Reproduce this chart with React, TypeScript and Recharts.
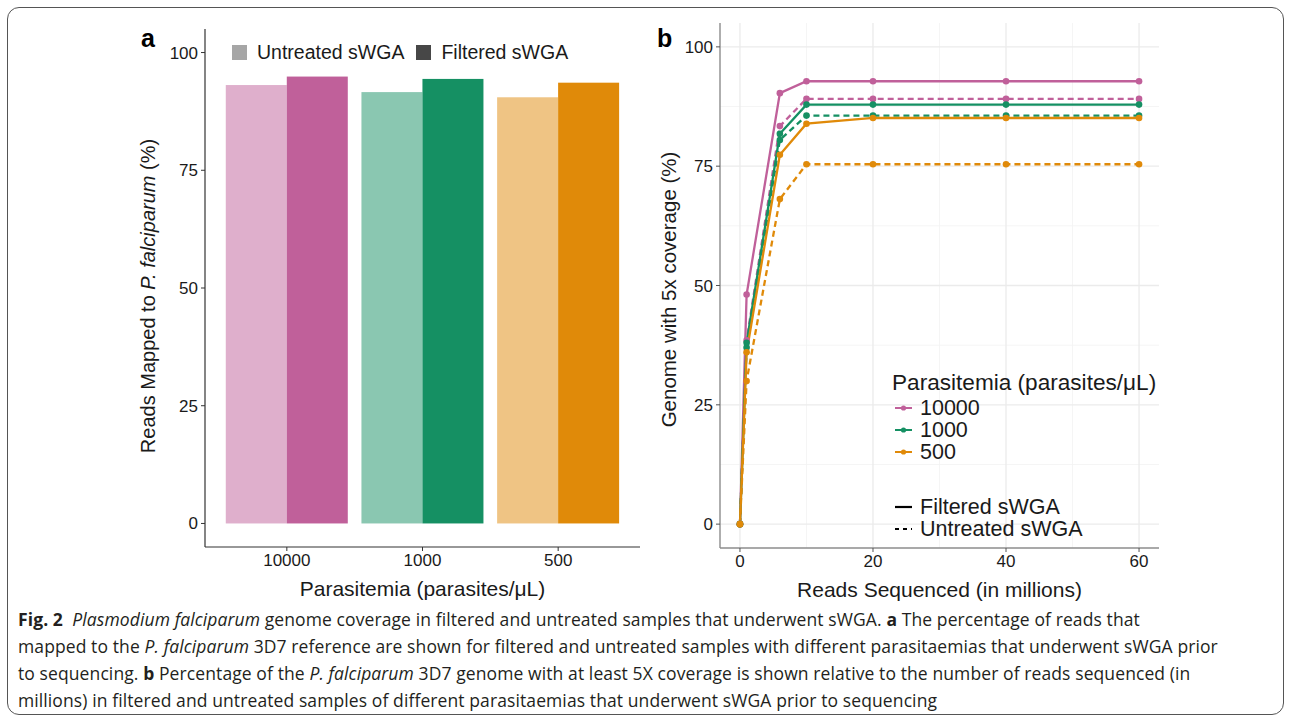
import React from 'react';
import {
  BarChart, Bar, LineChart, Line, XAxis, YAxis, CartesianGrid,
} from 'recharts';

// ---------- Panel a data ----------
const parasitemiaCategories = ['10000', '1000', '500'];
const untreatedReadsMapped = [93.1, 91.6, 90.5];
const filteredReadsMapped = [94.9, 94.4, 93.6];
const barColors = ['#C0609A', '#159063', '#E08A09'];
const yTicksPct = [0, 25, 50, 75, 100];

// ---------- Panel b data ----------
const readsSequenced = [0, 1, 6, 10, 20, 40, 60];
const cov10000Filtered = [0, 48.1, 90.3, 92.8, 92.8, 92.8, 92.8];
const cov10000Untreated = [0, 38.5, 83.4, 89.1, 89.1, 89.1, 89.1];
const cov1000Filtered = [0, 38, 81.8, 87.9, 87.9, 87.9, 87.9];
const cov1000Untreated = [0, 37, 80.5, 85.6, 85.6, 85.6, 85.6];
const cov500Filtered = [0, 36, 77.4, 83.9, 85.1, 85.1, 85.1];
const cov500Untreated = [0, 30, 68.1, 75.4, 75.4, 75.4, 75.4];
const xTicksReads = [0, 20, 40, 60];
const xMinorReads = [10, 30, 50];
const yMinorPct = [12.5, 37.5, 62.5, 87.5];

const barData = parasitemiaCategories.map((c, i) => ({
  cat: c,
  untreated: untreatedReadsMapped[i],
  filtered: filteredReadsMapped[i],
}));

const lineData = readsSequenced.map((x, i) => ({
  x,
  f10000: cov10000Filtered[i],
  u10000: cov10000Untreated[i],
  f1000: cov1000Filtered[i],
  u1000: cov1000Untreated[i],
  f500: cov500Filtered[i],
  u500: cov500Untreated[i],
}));

const lineSeries = [
  { key: 'u10000', color: barColors[0], dashed: true },
  { key: 'f10000', color: barColors[0], dashed: false },
  { key: 'u1000', color: barColors[1], dashed: true },
  { key: 'f1000', color: barColors[1], dashed: false },
  { key: 'u500', color: barColors[2], dashed: true },
  { key: 'f500', color: barColors[2], dashed: false },
];

const FONT = '"Liberation Sans", Arial, Helvetica, sans-serif';
const TEXT = '#1A1A1A';

const BarShape = (props: any) => {
  const { x, y, width, height, index, dataKey } = props;
  const col = barColors[index];
  return (
    <rect x={x} y={y} width={width} height={height} fill={col}
      fillOpacity={dataKey === 'untreated' ? 0.5 : 1} />
  );
};

const YTitleA = (props: any) => {
  const { viewBox } = props;
  const cx = viewBox.x - 12;
  const cy = viewBox.y + viewBox.height / 2 + 8;
  return (
    <text x={cx} y={cy} transform={`rotate(-90 ${cx} ${cy})`} textAnchor="middle"
      dominantBaseline="central" fontSize={20} fill={TEXT} fontFamily={FONT}>
      Reads Mapped to <tspan fontStyle="italic">P. falciparum</tspan> (%)
    </text>
  );
};

const YTitleB = (props: any) => {
  const { viewBox } = props;
  const cx = viewBox.x;
  const cy = viewBox.y + viewBox.height / 2 + 4;
  return (
    <text x={cx} y={cy} transform={`rotate(-90 ${cx} ${cy})`} textAnchor="middle"
      dominantBaseline="central" fontSize={20.5} fill={TEXT} fontFamily={FONT}>
      Genome with 5x coverage (%)
    </text>
  );
};

const XTitle = (text: string) => (props: any) => {
  const { viewBox } = props;
  return (
    <text x={viewBox.x + viewBox.width / 2} y={viewBox.y + 41} textAnchor="middle"
      dominantBaseline="central" fontSize={21} fill={TEXT} fontFamily={FONT}>
      {text}
    </text>
  );
};

const tickStyle = { fontSize: 17, fill: TEXT, fontFamily: FONT };

export default function App() {
  return (
    <div style={{ position: 'absolute', left: 0, top: 0, width: 1292, height: 720, background: '#fff', overflow: 'hidden' }}>
      {/* figure frame */}
      <div style={{ position: 'absolute', left: 7, top: 7, width: 1277, height: 708, border: '1.5px solid #555', borderRadius: 12, boxSizing: 'border-box' }} />

      {/* panel labels */}
      <div style={{ position: 'absolute', left: 141, top: 24, fontFamily: FONT, fontWeight: 700, fontSize: 25 }}>a</div>
      <div style={{ position: 'absolute', left: 657, top: 24, fontFamily: FONT, fontWeight: 700, fontSize: 25 }}>b</div>

      {/* Panel a */}
      <div style={{ position: 'absolute', left: 0, top: 0 }}>
        <BarChart width={660} height={610} data={barData}
          margin={{ top: 29, right: 20, bottom: 0, left: 160 }}
          barCategoryGap="5%" barGap={0}>
          <XAxis dataKey="cat" xAxisId="top" orientation="top" height={0} tick={false} tickLine={false}
            axisLine={{ stroke: '#B3B3B3', strokeWidth: 1.2 }} />
          <YAxis yAxisId="right" orientation="right" width={0} domain={[-5, 105]} tick={false} tickLine={false}
            axisLine={{ stroke: '#B3B3B3', strokeWidth: 1.2 }} />
          <XAxis dataKey="cat" type="category" padding={{ left: 14, right: 14 }}
            tick={tickStyle} tickSize={4} tickMargin={3} height={63}
            tickLine={{ stroke: '#333' }} axisLine={{ stroke: '#333', strokeWidth: 1.2 }}
            label={{ content: XTitle('Parasitemia (parasites/μL)') }} />
          <YAxis domain={[-5, 105]} ticks={yTicksPct} width={45} tick={tickStyle} tickSize={4} tickMargin={3}
            tickLine={{ stroke: '#333' }} axisLine={{ stroke: '#333', strokeWidth: 1.2 }}
            label={{ content: YTitleA }} />
          <Bar dataKey="untreated" isAnimationActive={false} shape={(p: any) => <BarShape {...p} dataKey="untreated" />} />
          <Bar dataKey="filtered" isAnimationActive={false} shape={(p: any) => <BarShape {...p} dataKey="filtered" />} />
        </BarChart>
      </div>

      {/* Panel a legend */}
      <div style={{ position: 'absolute', left: 232, top: 41, display: 'flex', alignItems: 'center', fontFamily: FONT, fontSize: 19.5, color: TEXT }}>
        <span style={{ width: 15, height: 15, background: '#A6A6A6', display: 'inline-block', marginRight: 10 }} />
        <span style={{ marginRight: 12 }}>Untreated sWGA</span>
        <span style={{ width: 15, height: 15, background: '#474747', display: 'inline-block', marginRight: 10 }} />
        <span>Filtered sWGA</span>
      </div>

      {/* Panel b */}
      <div style={{ position: 'absolute', left: 640, top: 0 }}>
        <LineChart width={640} height={610} data={lineData}
          margin={{ top: 23, right: 121, bottom: 0, left: 28 }}>
          <CartesianGrid horizontalValues={yMinorPct} verticalValues={xMinorReads} stroke="#F2F2F2" strokeWidth={0.8} yAxisId="left" />
          <CartesianGrid horizontalValues={yTicksPct} verticalValues={xTicksReads} stroke="#EBEBEB" strokeWidth={1.3} yAxisId="left" />
          <XAxis dataKey="x" xAxisId="top" orientation="top" type="number" domain={[-3, 63]} height={0} tick={false} tickLine={false}
            axisLine={{ stroke: '#8C8C8C', strokeWidth: 1.4 }} />
          <YAxis yAxisId="right" orientation="right" width={0} domain={[-5, 105]} tick={false} tickLine={false}
            axisLine={{ stroke: '#8C8C8C', strokeWidth: 1.4 }} />
          <XAxis dataKey="x" type="number" domain={[-3, 63]} ticks={xTicksReads} allowDataOverflow
            tick={tickStyle} tickSize={4} tickMargin={3} height={62}
            tickLine={{ stroke: '#555' }} axisLine={{ stroke: '#8C8C8C', strokeWidth: 1.4 }}
            label={{ content: XTitle('Reads Sequenced (in millions)') }} />
          <YAxis yAxisId="left" domain={[-5, 105]} ticks={yTicksPct} width={52} allowDataOverflow
            tick={tickStyle} tickSize={4} tickMargin={3}
            tickLine={{ stroke: '#555' }} axisLine={{ stroke: '#8C8C8C', strokeWidth: 1.4 }}
            label={{ content: YTitleB }} />
          {lineSeries.map((s) => (
            <Line key={s.key} yAxisId="left" dataKey={s.key} stroke={s.color} strokeWidth={2.3}
              strokeDasharray={s.dashed ? '6 4' : undefined} isAnimationActive={false}
              dot={{ r: 3.3, fill: s.color, stroke: 'none', strokeDasharray: '' }} activeDot={false} />
          ))}
        </LineChart>
      </div>

      {/* Panel b legend */}
      <div style={{ position: 'absolute', left: 892, top: 369, fontFamily: FONT, color: TEXT }}>
        <div style={{ fontSize: 22.6, lineHeight: '28px' }}>Parasitemia (parasites/μL)</div>
        {parasitemiaCategories.map((c, i) => (
          <div key={c} style={{ display: 'flex', alignItems: 'center', height: 22, lineHeight: '22px', fontSize: 21.5 }}>
            <svg width={26} height={10} style={{ marginLeft: 2 }}>
              <line x1={1} y1={5} x2={18} y2={5} stroke={barColors[i]} strokeWidth={2} />
              <circle cx={9.5} cy={5} r={2.6} fill={barColors[i]} />
            </svg>
            <span>{c}</span>
          </div>
        ))}
        <div style={{ height: 33 }} />
        {[{ t: 'Filtered sWGA', d: undefined }, { t: 'Untreated sWGA', d: '4 4' }].map((it) => (
          <div key={it.t} style={{ display: 'flex', alignItems: 'center', height: 22, lineHeight: '22px', fontSize: 21.5 }}>
            <svg width={26} height={10} style={{ marginLeft: 2 }}>
              <line x1={1} y1={5} x2={18} y2={5} stroke="#000" strokeWidth={2.2} strokeDasharray={it.d} />
            </svg>
            <span>{it.t}</span>
          </div>
        ))}
      </div>

      {/* Caption */}
      <div style={{ position: 'absolute', left: 18, top: 606, fontFamily: '"Open Sans", "Noto Sans", sans-serif', fontSize: 17.5, lineHeight: '27px', color: '#231F20', whiteSpace: 'nowrap', letterSpacing: 0.1 }}>
        <div><b>Fig. 2</b>&nbsp; <i>Plasmodium falciparum</i> genome coverage in filtered and untreated samples that underwent sWGA. <b>a</b> The percentage of reads that</div>
        <div>mapped to the <i>P. falciparum</i> 3D7 reference are shown for filtered and untreated samples with different parasitaemias that underwent sWGA prior</div>
        <div>to sequencing. <b>b</b> Percentage of the <i>P. falciparum</i> 3D7 genome with at least 5X coverage is shown relative to the number of reads sequenced (in</div>
        <div>millions) in filtered and untreated samples of different parasitaemias that underwent sWGA prior to sequencing</div>
      </div>
    </div>
  );
}
